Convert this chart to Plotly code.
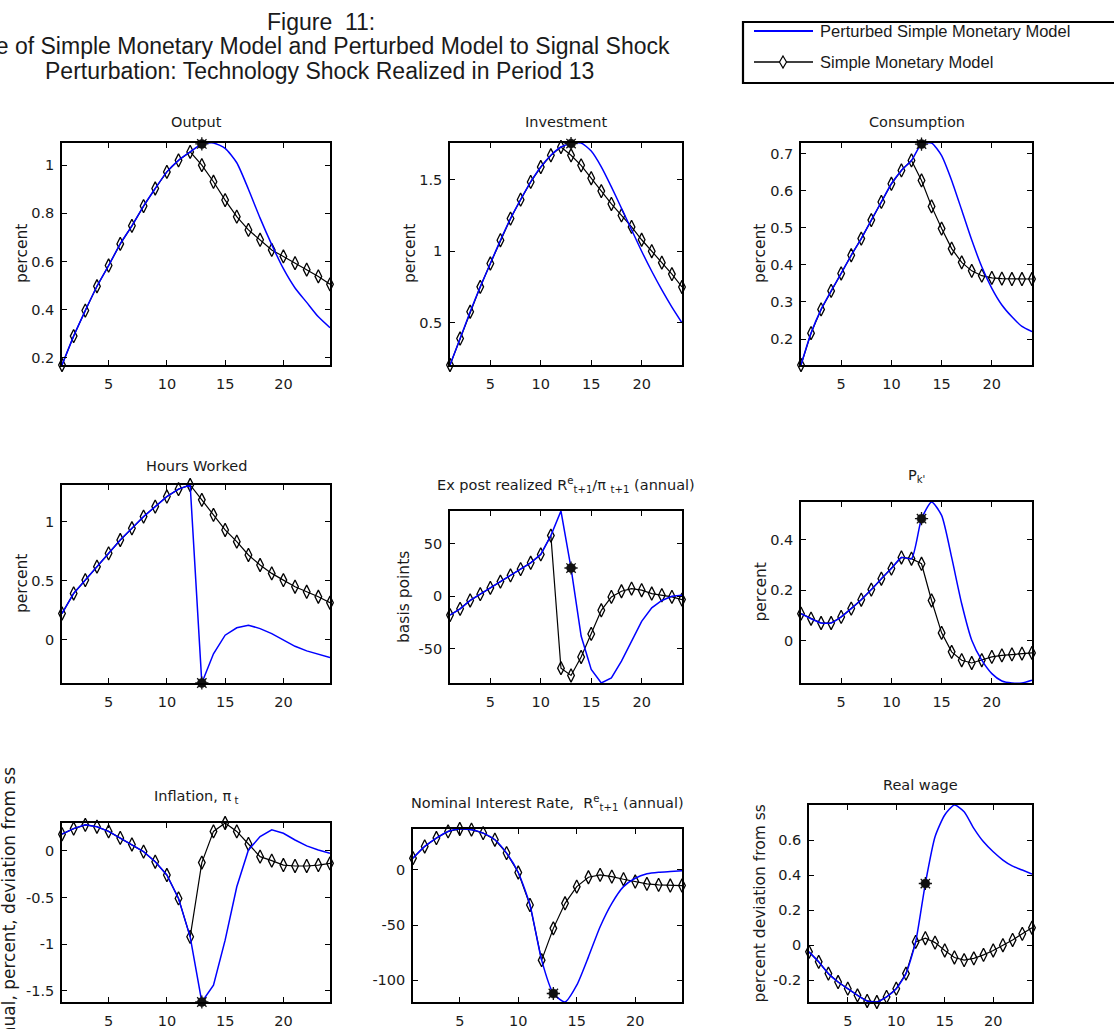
import plotly.graph_objects as go

W, H = 1114, 1029

periods = list(range(1, 25))
shock_period = 13

# ---- impulse responses (simple model = black diamonds, perturbed model = blue) ----
output_simple = [0.17, 0.29, 0.396, 0.497, 0.583, 0.673, 0.748, 0.83, 0.903, 0.972, 1.02, 1.055,
                 1.0, 0.931, 0.855, 0.786, 0.731, 0.69, 0.648, 0.621, 0.593, 0.566, 0.538, 0.505]
output_perturbed = output_simple[:12] + [1.088, 1.092, 1.07, 1.01, 0.90, 0.78, 0.67, 0.57, 0.49, 0.43, 0.37, 0.325]

investment_simple = [0.205, 0.39, 0.577, 0.751, 0.914, 1.077, 1.228, 1.36, 1.484, 1.588, 1.67, 1.728,
                     1.67, 1.60, 1.51, 1.42, 1.33, 1.25, 1.17, 1.08, 1.0, 0.92, 0.84, 0.75]
investment_perturbed = investment_simple[:12] + [1.752, 1.756, 1.70, 1.59, 1.45, 1.30, 1.15, 1.00, 0.86, 0.73, 0.61, 0.50]

consumption_simple = [0.13, 0.216, 0.28, 0.33, 0.377, 0.426, 0.471, 0.521, 0.57, 0.619, 0.655, 0.682,
                      0.628, 0.558, 0.498, 0.444, 0.407, 0.384, 0.371, 0.365, 0.363, 0.362, 0.362, 0.362]
consumption_perturbed = consumption_simple[:12] + [0.726, 0.729, 0.695, 0.628, 0.548, 0.467, 0.395, 0.337, 0.292, 0.26, 0.234, 0.22]

hours_simple = [0.221, 0.391, 0.504, 0.618, 0.731, 0.844, 0.943, 1.042, 1.127, 1.212, 1.275, 1.31,
                1.184, 1.057, 0.929, 0.83, 0.717, 0.632, 0.561, 0.504, 0.448, 0.405, 0.363, 0.312]
hours_perturbed = hours_simple[:12] + [-0.368, -0.12, 0.037, 0.10, 0.122, 0.093, 0.05, -0.006, -0.057, -0.096, -0.127, -0.153]

real_rate_simple = [-18, -12, -4, 2, 8, 14, 20, 26, 32, 40, 58, -68.7,
                    -75.7, -58, -36, -13.4, -0.6, 4.8, 7.3, 5.8, 2.6, 1, -0.6, -3.2]
real_rate_perturbed = real_rate_simple[:11] + [81.5, 27, -38, -70, -82.9, -78, -62, -43, -24, -11, -4, 0, 1]

pk_simple = [0.108, 0.088, 0.071, 0.071, 0.095, 0.128, 0.163, 0.203, 0.246, 0.286, 0.33, 0.325,
             0.305, 0.16, 0.032, -0.043, -0.076, -0.087, -0.076, -0.063, -0.057, -0.053, -0.05, -0.047]
pk_perturbed = pk_simple[:12] + [0.483, 0.549, 0.496, 0.33, 0.147, 0.003, -0.076, -0.129, -0.158, -0.166, -0.166, -0.155]

inflation_simple = [0.18, 0.24, 0.28, 0.26, 0.21, 0.14, 0.07, -0.007, -0.115, -0.258, -0.509, -0.921,
                    -0.125, 0.21, 0.30, 0.21, 0.075, -0.061, -0.104, -0.151, -0.161, -0.161, -0.151, -0.133]
inflation_perturbed = inflation_simple[:12] + [-1.62, -1.44, -0.957, -0.384, 0.011, 0.154, 0.226, 0.19, 0.118, 0.054, 0.011, -0.025]

nominal_simple = [10.6, 21.2, 28.8, 34.8, 37, 36.4, 33.3, 27.3, 15.2, -2.4, -31.8, -81.8,
                  -53, -30.3, -15.2, -6.7, -4.5, -6.1, -8.5, -10.6, -12.7, -13.6, -14.2, -14.2]
nominal_perturbed = nominal_simple[:12] + [-112, -119.7, -104.5, -78.8, -51.5, -30.3, -15.2, -7.6, -3.6, -2.1, -1.5, -0.9]

wage_simple = [-0.038, -0.095, -0.162, -0.21, -0.248, -0.286, -0.318, -0.324, -0.295, -0.248, -0.162, 0.019,
               0.04, 0.015, -0.03, -0.07, -0.085, -0.075, -0.055, -0.03, 0.0, 0.03, 0.065, 0.1]
wage_perturbed = wage_simple[:12] + [0.352, 0.619, 0.743, 0.8, 0.762, 0.667, 0.59, 0.533, 0.486, 0.451, 0.429, 0.406]

x_ticks = [5, 10, 15, 20]
output_ticks = [0.2, 0.4, 0.6, 0.8, 1]
investment_ticks = [0.5, 1, 1.5]
consumption_ticks = [0.2, 0.3, 0.4, 0.5, 0.6, 0.7]
hours_ticks = [0, 0.5, 1]
real_rate_ticks = [-50, 0, 50]
pk_ticks = [0, 0.2, 0.4]
inflation_ticks = [-1.5, -1, -0.5, 0]
nominal_ticks = [-100, -50, 0]
wage_ticks = [-0.2, 0, 0.2, 0.4, 0.6]

legend_labels = ["Perturbed Simple Monetary Model", "Simple Monetary Model"]

# ---- panel setup: box = (left, right, top, bottom) in pixels ----
panels = [
    dict(title="Output", title_y=122, simple=output_simple, pert=output_perturbed, ticks=output_ticks,
         ylabel="percent", ylabel_x=22, box=(62, 330, 143, 365), shape="spline"),
    dict(title="Investment", title_y=122, simple=investment_simple, pert=investment_perturbed, ticks=investment_ticks,
         ylabel="percent", ylabel_x=410, box=(450, 682, 143, 365), shape="spline"),
    dict(title="Consumption", title_y=122, simple=consumption_simple, pert=consumption_perturbed, ticks=consumption_ticks,
         ylabel="percent", ylabel_x=760, box=(801, 1032, 143, 365), shape="spline"),
    dict(title="Hours Worked", title_y=466, simple=hours_simple, pert=hours_perturbed, ticks=hours_ticks,
         ylabel="percent", ylabel_x=22, box=(62, 330, 485, 683), shape="linear"),
    dict(title="Ex post realized R<sup>e</sup><sub>t+1</sub>/\u03c0 <sub>t+1</sub> (annual)", title_y=485,
         simple=real_rate_simple, pert=real_rate_perturbed, ticks=real_rate_ticks,
         ylabel="basis points", ylabel_x=404, box=(450, 682, 511, 683), shape="linear"),
    dict(title="P<sub>k'</sub>", title_y=476, simple=pk_simple, pert=pk_perturbed, ticks=pk_ticks,
         ylabel="percent", ylabel_x=760, box=(801, 1032, 502, 683), shape="spline"),
    dict(title="Inflation, \u03c0<sub> t</sub>", title_y=797, simple=inflation_simple, pert=inflation_perturbed,
         ticks=inflation_ticks, ylabel="annual, percent, deviation from ss", ylabel_x=8, ylabel_size=17,
         box=(62, 330, 823, 1002), shape="linear"),
    dict(title="Nominal Interest Rate,  R<sup>e</sup><sub>t+1</sub> (annual)", title_y=803,
         simple=nominal_simple, pert=nominal_perturbed, ticks=nominal_ticks,
         ylabel=None, ylabel_x=None, box=(413, 682, 829, 1002), shape="spline"),
    dict(title="Real wage", title_y=785, simple=wage_simple, pert=wage_perturbed, ticks=wage_ticks,
         ylabel="percent deviation from ss", ylabel_x=759, box=(809, 1032, 805, 1002), shape="spline"),
]

AX_FONT = "DejaVu Sans, Verdana, sans-serif"
TITLE_FONT = "Liberation Sans, Arial, sans-serif"
TEXT = "#1a1a1a"
BLUE = "rgb(0,0,255)"


def px(x):
    return x / W


def py(y):
    return 1 - y / H


fig = go.Figure()
annotations = []
shapes = []
layout_axes = {}

for i, p in enumerate(panels, start=1):
    xa = "x" if i == 1 else f"x{i}"
    ya = "y" if i == 1 else f"y{i}"
    left, right, top, bottom = p["box"]

    # simple model: black line with open diamonds
    fig.add_trace(go.Scatter(
        x=periods, y=p["simple"], xaxis=xa, yaxis=ya, mode="lines+markers",
        line=dict(color="black", width=1.2),
        marker=dict(symbol="diamond-tall-open", size=9.5, color="black", line=dict(width=1.3)),
        cliponaxis=False, showlegend=False))
    # perturbed model: blue line
    fig.add_trace(go.Scatter(
        x=periods, y=p["pert"], xaxis=xa, yaxis=ya, mode="lines",
        line=dict(color=BLUE, width=1.5, shape=p["shape"], smoothing=0.6),
        showlegend=False))
    # shock realisation marker at the perturbed value in period 13
    k = periods.index(shock_period)
    for sym, size, lw in (("circle", 9, 0.5), ("asterisk-open", 11, 1.3)):
        fig.add_trace(go.Scatter(
            x=[shock_period], y=[p["pert"][k]], xaxis=xa, yaxis=ya, mode="markers",
            marker=dict(symbol=sym, size=size, color="#111", line=dict(color="#111", width=lw)),
            cliponaxis=False, showlegend=False))

    ymin = min(min(p["simple"]), min(p["pert"]))
    ymax = max(max(p["simple"]), max(p["pert"]))

    common = dict(showline=True, mirror="allticks", linecolor="black", linewidth=1.6,
                  ticks="inside", ticklen=5, tickwidth=1.1, tickcolor="black",
                  showgrid=False, zeroline=False,
                  tickfont=dict(family=AX_FONT, size=14.5, color=TEXT))
    layout_axes["xaxis" if i == 1 else f"xaxis{i}"] = dict(
        domain=[px(left), px(right)], anchor=ya, range=[periods[0], periods[-1]],
        tickmode="array", tickvals=x_ticks, ticktext=[str(t) for t in x_ticks],
        ticklabelstandoff=5, **common)
    layout_axes["yaxis" if i == 1 else f"yaxis{i}"] = dict(
        domain=[py(bottom), py(top)], anchor=xa, range=[ymin, ymax],
        tickmode="array", tickvals=p["ticks"], ticktext=[f"{t:g}" for t in p["ticks"]],
        ticklabelstandoff=3, **common)

    annotations.append(dict(
        text=p["title"], x=px((left + right) / 2), y=py(p["title_y"]), xref="paper", yref="paper",
        xanchor="center", yanchor="middle", showarrow=False,
        font=dict(family=AX_FONT, size=14.5, color=TEXT)))
    if p["ylabel"]:
        annotations.append(dict(
            text=p["ylabel"], x=px(p["ylabel_x"]), y=py((top + bottom) / 2), xref="paper", yref="paper",
            xanchor="center", yanchor="middle", textangle=-90, showarrow=False,
            font=dict(family=AX_FONT, size=p.get("ylabel_size", 15.5), color=TEXT)))

# ---- figure title ----
title_lines = [
    ("Figure\u00a0 11:", 321, 22, "center"),
    ("Response of Simple Monetary Model and Perturbed Model to Signal Shock", 672, 46, "right"),
    ("Perturbation: Technology Shock Realized in Period 13", 319, 71, "center"),
]
for text, x, y, anchor in title_lines:
    annotations.append(dict(
        text=text, x=px(x), y=py(y), xref="paper", yref="paper", xanchor=anchor, yanchor="middle",
        showarrow=False, font=dict(family=TITLE_FONT, size=23, color=TEXT)))

# ---- legend box ----
shapes.append(dict(type="rect", xref="paper", yref="paper", x0=px(743), x1=px(1130), y0=py(83), y1=py(22),
                   line=dict(color="black", width=2.2), fillcolor="white", layer="below"))
shapes.append(dict(type="line", xref="paper", yref="paper", x0=px(754), x1=px(813), y0=py(31), y1=py(31),
                   line=dict(color=BLUE, width=1.8)))
shapes.append(dict(type="line", xref="paper", yref="paper", x0=px(754), x1=px(813), y0=py(62), y1=py(62),
                   line=dict(color="black", width=1.4)))
dx, dy = 3.5 / W, 6 / H
cx, cy = px(783), py(62)
shapes.append(dict(type="path", xref="paper", yref="paper",
                   path=f"M {cx} {cy + dy} L {cx + dx} {cy} L {cx} {cy - dy} L {cx - dx} {cy} Z",
                   line=dict(color="black", width=1.2), fillcolor="white"))
for label, y in zip(legend_labels, (31, 62)):
    annotations.append(dict(
        text=label, x=px(818), y=py(y), xref="paper", yref="paper", xanchor="left", yanchor="middle",
        showarrow=False, font=dict(family=TITLE_FONT, size=16.5, color=TEXT)))

fig.update_layout(
    width=W, height=H, margin=dict(l=0, r=0, t=0, b=0),
    paper_bgcolor="white", plot_bgcolor="white",
    annotations=annotations, shapes=shapes, showlegend=False, **layout_axes)

fig.write_html("out.html")
